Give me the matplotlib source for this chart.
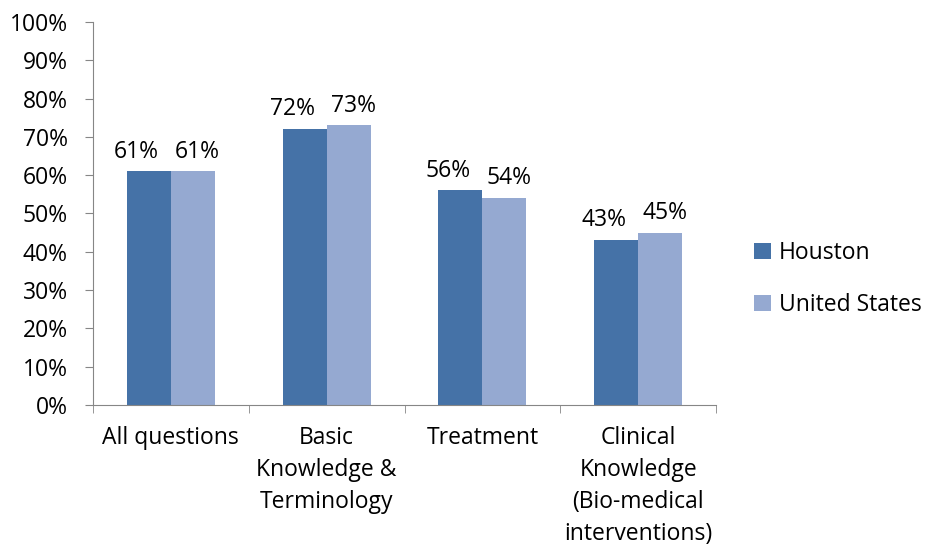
import matplotlib.pyplot as plt
import numpy as np

categories = ["All questions", "Basic\nKnowledge &\nTerminology", "Treatment",
              "Clinical\nKnowledge\n(Bio-medical\ninterventions)"]
houston = [61, 72, 56, 43]
united_states = [61, 73, 54, 45]

plt.rcParams['font.family'] = ['Open Sans', 'DejaVu Sans']
fs = 16.5

fig = plt.figure(figsize=(9.28, 5.48), dpi=100)
ax = fig.add_axes([0.1002, 0.261, 0.6714, 0.699])

x = np.arange(len(categories))
w = 0.283
b1 = ax.bar(x - w / 2, houston, w, color='#4572A7', label='Houston')
b2 = ax.bar(x + w / 2, united_states, w, color='#95A9D1', label='United States')

# labels sit a bit apart, like in the excel original
for bars, vals, dx in ((b1, houston, -0.08), (b2, united_states, 0.03)):
    for r, v in zip(bars, vals):
        ax.text(r.get_x() + r.get_width() / 2 + dx, v + 3.6, f"{v}%",
                ha='center', va='baseline', fontsize=fs)

ax.set_xlim(-0.5, len(categories) - 0.5)
ax.set_ylim(0, 100)
ax.set_yticks(np.arange(0, 101, 10))
ax.set_yticklabels([f"{t}%" for t in range(0, 101, 10)], fontsize=fs)
ax.set_xticks(x)
ax.set_xticklabels(categories, fontsize=fs, va='top', linespacing=1.45)
ax.tick_params(axis='x', length=0, pad=15)
ax.set_xticks(np.arange(-0.5, len(categories)), minor=True)
ax.tick_params(axis='x', which='minor', length=6, color='#868686')
ax.tick_params(axis='y', length=6, color='#868686', direction='out', pad=12)

for s in ('top', 'right'):
    ax.spines[s].set_visible(False)
for s in ('left', 'bottom'):
    ax.spines[s].set_color('#868686')

fig.legend(loc='center left', bbox_to_anchor=(0.813, 0.491), frameon=False,
           fontsize=fs, handlelength=0.7, handleheight=0.7, labelspacing=1.2,
           handletextpad=0.35, borderpad=0, borderaxespad=0)

fig.savefig('out.png', dpi=100)
